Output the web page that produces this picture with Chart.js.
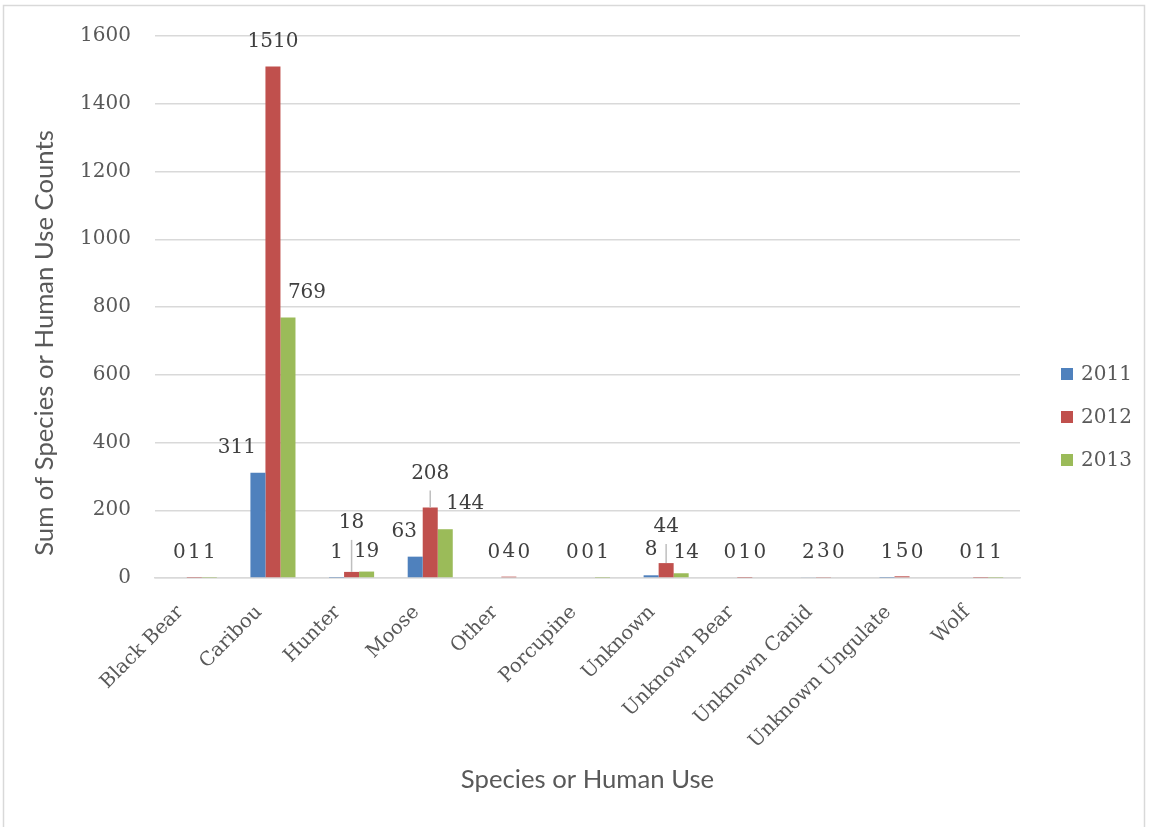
<!DOCTYPE html>
<html>
<head>
<meta charset="utf-8">
<script src="https://cdn.jsdelivr.net/npm/chart.js@4/dist/chart.umd.min.js"></script>
<style>
  html, body { margin: 0; padding: 0; background: #ffffff; }
  #wrap { width: 1154px; height: 827px; position: relative; }
</style>
</head>
<body>
<div id="wrap"><canvas id="chart" width="1154" height="827"></canvas></div>
<script>
// Categories and yearly counts
const categories = ['Black Bear', 'Caribou', 'Hunter', 'Moose', 'Other', 'Porcupine',
  'Unknown', 'Unknown Bear', 'Unknown Canid', 'Unknown Ungulate', 'Wolf'];
const years = ['2011', '2012', '2013'];
const counts2011 = [0, 311, 1, 63, 0, 0, 8, 0, 2, 1, 0];
const counts2012 = [1, 1510, 18, 208, 4, 0, 44, 1, 3, 5, 1];
const counts2013 = [1, 769, 19, 144, 0, 1, 14, 0, 0, 0, 1];
const yTickMin = 0;
const yTickMax = 1600;
const yTickStep = 200;

const yAxisTitle = 'Sum of Species or Human Use Counts';
const xAxisTitle = 'Species or Human Use';

// Styling
const yearColors = ['#4F81BD', '#C0504D', '#9BBB59'];
const textGrey = '#595959';
const labelGrey = '#404040';
const gridGrey = '#D9D9D9';
const serif = '"DejaVu Serif", serif';
const sans = 'Lato, "Open Sans", sans-serif';

// Label nudges (px) for labels that would otherwise collide; key = category:series
const labelNudges = {
  '1:0': { dx: -21, dy: 0 },
  '1:2': { dx: 19, dy: 0 },
  '2:1': { dx: 0, dy: -24, leader: true },
  '2:2': { dx: 0, dy: 5 },
  '3:0': { dx: -11, dy: 0 },
  '3:1': { dx: 0, dy: -9, leader: true },
  '3:2': { dx: 20, dy: 0 },
  '6:1': { dx: 0, dy: -11, leader: true },
  '6:2': { dx: 5, dy: 5 }
};

const seriesData = [counts2011, counts2012, counts2013];

const framePlugin = {
  id: 'frame',
  beforeDraw(chart) {
    const { ctx } = chart;
    ctx.save();
    ctx.fillStyle = '#ffffff';
    ctx.fillRect(0, 0, chart.width, chart.height);
    ctx.strokeStyle = gridGrey;
    ctx.lineWidth = 1.5;
    ctx.strokeRect(3.5, 5.5, 1141, 840);
    ctx.restore();
  }
};

const valueLabelPlugin = {
  id: 'valueLabels',
  afterDatasetsDraw(chart) {
    const { ctx } = chart;
    ctx.save();
    ctx.font = '20px ' + serif;
    ctx.fillStyle = labelGrey;
    ctx.textAlign = 'center';
    ctx.textBaseline = 'middle';
    chart.data.datasets.forEach((ds, di) => {
      const meta = chart.getDatasetMeta(di);
      meta.data.forEach((bar, ci) => {
        const nudge = labelNudges[ci + ':' + di] || { dx: 0, dy: 0 };
        const x = bar.x + nudge.dx;
        const y = bar.y - 25 + nudge.dy;
        if (nudge.leader) {
          ctx.save();
          ctx.strokeStyle = '#BFBFBF';
          ctx.lineWidth = 1.5;
          ctx.beginPath();
          ctx.moveTo(bar.x, y + 17);
          ctx.lineTo(bar.x, bar.y);
          ctx.stroke();
          ctx.restore();
        }
        ctx.fillText(String(ds.data[ci]), x, y);
      });
    });
    ctx.restore();
  }
};

const titleLegendPlugin = {
  id: 'titlesAndLegend',
  afterDraw(chart) {
    const { ctx, chartArea } = chart;
    ctx.save();
    ctx.fillStyle = textGrey;
    ctx.textAlign = 'center';
    ctx.textBaseline = 'middle';
    ctx.font = '25.7px ' + sans;
    ctx.fillText(xAxisTitle, (chartArea.left + chartArea.right) / 2, 780);
    ctx.save();
    ctx.translate(45, 343);
    ctx.rotate(-Math.PI / 2);
    ctx.fillText(yAxisTitle, 0, 0);
    ctx.restore();

    // legend
    ctx.font = '20px ' + serif;
    ctx.textAlign = 'left';
    chart.data.datasets.forEach((ds, i) => {
      const cy = 374 + i * 43;
      const bx = chartArea.right + 41;
      ctx.fillStyle = ds.backgroundColor;
      ctx.fillRect(bx, cy - 6, 12, 12);
      ctx.fillStyle = textGrey;
      ctx.fillText(ds.label, bx + 20, cy + 1);
    });
    ctx.restore();
  }
};

new Chart(document.getElementById('chart'), {
  type: 'bar',
  data: {
    labels: categories,
    datasets: years.map((y, i) => ({
      label: y,
      data: seriesData[i],
      backgroundColor: yearColors[i],
      borderWidth: 0,
      categoryPercentage: 0.573,
      barPercentage: 1.0
    }))
  },
  options: {
    responsive: false,
    animation: false,
    devicePixelRatio: 1,
    layout: { padding: { left: 0, right: 134, top: 34, bottom: 0 } },
    plugins: {
      legend: { display: false },
      tooltip: { enabled: false }
    },
    scales: {
      x: {
        grid: { display: false, drawTicks: false },
        border: { display: true, color: gridGrey, width: 1.5 },
        ticks: {
          autoSkip: false,
          maxRotation: 45,
          minRotation: 45,
          padding: 23,
          labelOffset: -14,
          color: textGrey,
          font: { family: serif, size: 19.5 }
        },
        afterFit(scale) { scale.height = 249; }
      },
      y: {
        min: yTickMin,
        max: yTickMax,
        ticks: {
          stepSize: yTickStep,
          padding: 24,
          color: textGrey,
          font: { family: serif, size: 20 },
          callback: (v) => String(v)
        },
        grid: { color: gridGrey, lineWidth: 1.5, drawTicks: false },
        border: { display: false },
        afterFit(scale) { scale.width = 155; }
      }
    }
  },
  plugins: [framePlugin, valueLabelPlugin, titleLegendPlugin]
});
</script>
</body>
</html>
